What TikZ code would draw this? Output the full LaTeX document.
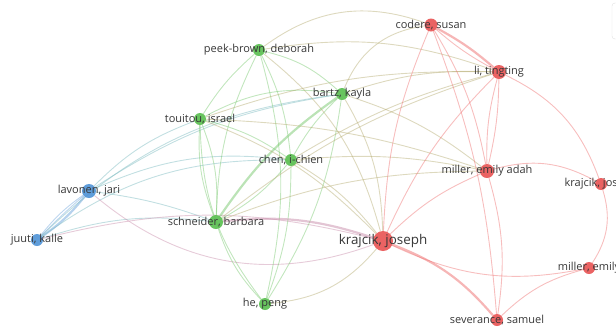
\documentclass[tikz,border=0pt]{standalone}
\usepackage{fontspec}
\setmainfont{Open Sans}
\pgfdeclarelayer{bg}
\pgfsetlayers{bg,main}
\definecolor{gnN}{RGB}{88,190,78}
\definecolor{rdN}{RGB}{232,82,82}
\definecolor{blN}{RGB}{78,146,214}
\definecolor{gnE}{RGB}{120,200,110}
\definecolor{rdE}{RGB}{238,110,110}
\definecolor{blE}{RGB}{110,165,220}
\definecolor{mxE}{RGB}{180,170,110}
\definecolor{bgE}{RGB}{120,185,190}
\definecolor{brE}{RGB}{200,140,170}
\definecolor{labC}{RGB}{55,55,55}
\tikzset{
  nd/.style={circle, inner sep=0pt, minimum size=#1},
  gnode/.style={nd=#1, fill=gnN, fill opacity=0.9},
  rnode/.style={nd=#1, fill=rdN, fill opacity=0.9},
  bnode/.style={nd=#1, fill=blN, fill opacity=0.9},
  lab/.style={text=labC, font=\fontsize{11}{13}\selectfont, inner sep=0pt},
  biglab/.style={text=labC, font=\fontsize{13.4}{15}\selectfont, inner sep=0pt},
  ed/.style={draw=#1, draw opacity=0.45, line width=0.9pt},
  edk/.style={draw=#1, draw opacity=0.5, line width=2.2pt},
}
\begin{document}
\begin{tikzpicture}[x=1pt,y=-1pt]
\useasboundingbox (0,0) rectangle (616,333);
\clip (0,0) rectangle (616,333);
% nodes
\node[gnode=12] (peek) at (259,50) {};
\node[gnode=12] (bartz) at (342,94) {};
\node[gnode=12] (tou) at (200,119) {};
\node[gnode=12] (chen) at (291,160) {};
\node[gnode=14] (sch) at (216,222) {};
\node[gnode=12] (he) at (265,304) {};
\node[bnode=14] (lav) at (89,191) {};
\node[bnode=12] (juu) at (37,240) {};
\node[rnode=13] (cod) at (431,25) {};
\node[rnode=14] (li) at (499,72) {};
\node[rnode=14] (mea) at (487,171) {};
\node[rnode=12] (kjo) at (601,184) {};
\node[rnode=20] (kra) at (383,241) {};
\node[rnode=12] (mem) at (589,268) {};
\node[rnode=12] (sev) at (497,320) {};
% labels
\node[lab] at (peek) {peek-brown, deborah};
\node[lab] at (bartz) {bartz, kayla};
\node[lab] at (tou) {touitou, israel};
\node[lab] at (chen) {chen, i-chien};
\node[lab] at (sch) {schneider, barbara};
\node[lab] at (he) {he, peng};
\node[lab] at (lav) {lavonen, jari};
\node[lab] at (juu) {juuti, kalle};
\node[lab] at (cod) {codere, susan};
\node[lab] at (li) {li, tingting};
\node[lab] at (mea) {miller, emily adah};
\node[lab] at (kjo) {krajcik, joseph};
\node[biglab] at (kra) {krajcik, joseph};
\node[lab] at (mem) {miller, emily};
\node[lab] at (sev) {severance, samuel};
% frame at top right
\draw[black!12, rounded corners=3pt] (625,3) -- (612,3) -- (612,39) -- (625,39);
\begin{pgfonlayer}{bg}
% blue
\draw[edk=blE] (lav) to[bend left=8] (juu);
\draw[ed=blE] (lav) to[bend right=8] (juu);
\draw[ed=blE] (lav) to[bend right=2] (juu);
\draw[ed=bgE] (lav) to[bend left=15] (chen);
\draw[ed=bgE] (lav) to[bend left=12] (tou);
\draw[ed=bgE] (lav) to[bend left=6] (sch);
\draw[ed=bgE] (lav) to[bend left=12] (bartz);
\draw[ed=bgE] (juu) to[bend left=18] (chen);
\draw[ed=bgE] (juu) to[bend left=12] (sch);
\draw[ed=bgE] (juu) to[bend left=18] (bartz);
\draw[ed=brE] (lav) to[bend right=30] (kra);
\draw[ed=brE] (juu) to[bend left=14] (kra);
% green
\draw[ed=gnE] (peek) to[bend right=8] (tou);
\draw[ed=gnE] (peek) to[bend left=10] (chen);
\draw[ed=gnE] (peek) to[bend right=12] (sch);
\draw[ed=gnE] (peek) to[bend left=14] (he);
\draw[ed=gnE] (peek) to[bend left=14] (bartz);
\draw[ed=gnE] (tou) to[bend left=10] (chen);
\draw[ed=gnE] (tou) to[bend right=12] (sch);
\draw[ed=gnE] (tou) to[bend left=12] (sch);
\draw[ed=gnE] (tou) to[bend right=18] (he);
\draw[ed=gnE] (tou) to[bend left=18] (bartz);
\draw[ed=gnE] (bartz) to[bend right=8] (chen);
\draw[edk=gnE] (bartz) to[bend right=10] (sch);
\draw[ed=gnE] (bartz) to[bend left=12] (he);
\draw[ed=gnE] (chen) to[bend left=10] (sch);
\draw[ed=gnE] (chen) to[bend left=10] (he);
\draw[ed=gnE] (sch) to[bend right=12] (he);
% mixed
\draw[ed=mxE] (peek) to[bend left=28] (cod);
\draw[ed=mxE] (peek) to[bend left=14] (li);
\draw[ed=mxE] (peek) to[bend left=18] (kra);
\draw[ed=mxE] (tou) to[bend left=12] (kra);
\draw[ed=mxE] (tou) to[bend left=10] (li);
\draw[ed=mxE] (tou) to[bend left=8] (mea);
\draw[ed=mxE] (bartz) to[bend left=30] (cod);
\draw[ed=mxE] (bartz) to[bend left=10] (li);
\draw[ed=mxE] (bartz) to[bend left=14] (kra);
\draw[ed=mxE] (bartz) to[bend left=10] (mea);
\draw[ed=mxE] (chen) to[bend left=10] (kra);
\draw[ed=mxE] (chen) to[bend left=8] (li);
\draw[ed=mxE] (chen) to[bend left=8] (mea);
\draw[edk=brE] (sch) to[bend left=12] (kra);
\draw[ed=mxE] (sch) to[bend left=10] (li);
\draw[ed=mxE] (sch) to[bend left=10] (mea);
\draw[ed=mxE] (he) to[bend right=22] (kra);
% red
\draw[edk=rdE] (cod) to[bend left=6] (li);
\draw[ed=rdE] (cod) to[bend right=6] (li);
\draw[ed=rdE] (cod) to[bend left=10] (mea);
\draw[ed=rdE] (cod) to[bend right=10] (kra);
\draw[ed=rdE] (cod) to[bend left=8] (sev);
\draw[ed=rdE] (li) to[bend left=6] (mea);
\draw[ed=rdE] (li) to[bend right=8] (mea);
\draw[ed=rdE] (li) to[bend right=10] (kra);
\draw[ed=rdE] (li) to[bend left=22] (kjo);
\draw[ed=rdE] (mea) to[bend right=10] (kra);
\draw[ed=rdE] (mea) to[bend left=22] (kjo);
\draw[ed=rdE] (mea) to[bend left=12] (sev);
\draw[ed=rdE] (kjo) to[bend left=25] (mem);
\draw[edk=rdE] (kra) to[bend left=14] (sev);
\draw[ed=rdE] (kra) to[bend right=18] (mem);
\draw[ed=rdE] (sev) to[bend left=14] (mem);
\end{pgfonlayer}
\end{tikzpicture}
\end{document}
